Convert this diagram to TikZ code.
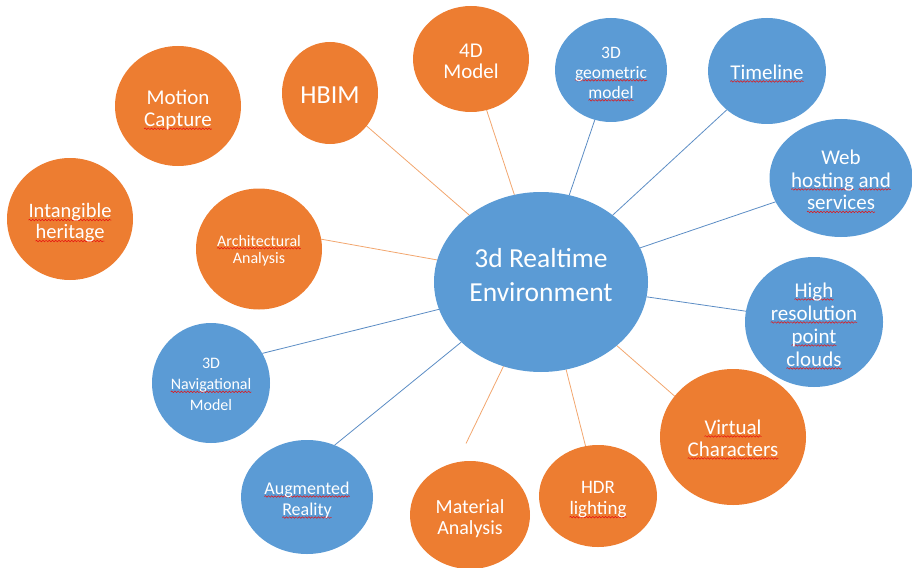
\documentclass[tikz,border=0pt]{standalone}
\usepackage{fontspec}
\setmainfont{Carlito}
\usetikzlibrary{shapes.geometric,backgrounds,decorations.pathmorphing}
\definecolor{orfill}{HTML}{ED7D31}
\definecolor{blfill}{HTML}{5B9BD5}
\definecolor{orline}{HTML}{F2A66E}
\definecolor{blline}{HTML}{5B8CC4}
\definecolor{sqred}{HTML}{E81010}
\newsavebox\sqbox
\newlength\sqlen
\newcommand\sq[1]{\sbox\sqbox{#1}\setlength\sqlen{\wd\sqbox}%
  \rlap{\tikz[overlay]\draw[sqred, line width=0.5pt, decorate,
    decoration={snake, amplitude=0.8pt, segment length=3.2pt}]
    (0pt,-2.2pt) -- (\sqlen,-2.2pt);}\usebox\sqbox}
\newcommand\fs[2]{\fontsize{#1}{#2}\selectfont}
\tikzset{
  bub/.style={ellipse, inner sep=0pt, outer sep=0pt},
  obub/.style={bub, fill=orfill},
  bbub/.style={bub, fill=blfill},
  lbl/.style={text=white, align=center, inner sep=0pt},
  oline/.style={draw=orline, line width=0.8pt},
  bline/.style={draw=blline, line width=0.8pt},
}
\begin{document}
\begin{tikzpicture}[x=1pt,y=-1pt]
\useasboundingbox (0,0) rectangle (912,567);
% central node
\node[bbub, minimum width=214pt, minimum height=180pt,
  label={[lbl, font={\fs{27.5}{34}}, yshift=6.5pt]center:{3d Realtime\\Environment}}]
  (main) at (541,282) {};
% orange nodes
\node[obub, minimum width=126pt, minimum height=120pt,
  label={[lbl, font={\fs{21}{22}}, yshift=-4pt]center:{Motion\\\sq{Capture}}}] (motion) at (178,106) {};
\node[obub, minimum width=96pt, minimum height=102pt,
  label={[lbl, font={\fs{26}{28}}, yshift=-2pt]center:{HBIM}}] (hbim) at (330,93) {};
\node[obub, minimum width=126pt, minimum height=122pt,
  label={[lbl, font={\fs{20.5}{21}}, yshift=-4pt]center:{\sq{Intangible}\\\sq{heritage}}}] (intang) at (70,219) {};
\node[obub, minimum width=126pt, minimum height=121pt,
  label={[lbl, font={\fs{16}{17.5}}, yshift=-1.5pt]center:{\sq{Architectural}\\Analysis}}] (arch) at (259,249) {};
\node[obub, minimum width=116pt, minimum height=106pt,
  label={[lbl, font={\fs{21}{21}}, yshift=-2pt]center:{4D\\Model}}] (fourd) at (471,59) {};
\node[obub, minimum width=146pt, minimum height=136pt,
  label={[lbl, font={\fs{21}{22}}, yshift=-1pt]center:{\sq{Virtual}\\\sq{Characters}}}] (virt) at (733,437) {};
\node[obub, minimum width=118pt, minimum height=102pt,
  label={[lbl, font={\fs{19}{21}}, yshift=-4pt]center:{HDR\\\sq{lighting}}}] (hdr) at (598,496) {};
\node[obub, minimum width=120pt, minimum height=108pt,
  label={[lbl, font={\fs{20}{21}}, yshift=-4pt]center:{Material\\Analysis}}] (mat) at (470,515) {};
% blue nodes
\node[bbub, minimum width=112pt, minimum height=104pt,
  label={[lbl, font={\fs{17.5}{20}}, yshift=-2.5pt]center:{3D\\\sq{geometric}\\\sq{model}}}] (geom) at (611,70) {};
\node[bbub, minimum width=118pt, minimum height=106pt,
  label={[lbl, font={\fs{21}{22}}, yshift=-1pt]center:{\sq{Timeline}}}] (time) at (767,71) {};
\node[bbub, minimum width=143pt, minimum height=118pt,
  label={[lbl, font={\fs{21}{22.5}}, yshift=-2pt]center:{Web\\\sq{hosting} \sq{and}\\\sq{services}}}] (web) at (841,178) {};
\node[bbub, minimum width=138pt, minimum height=130pt,
  label={[lbl, font={\fs{21}{23}}, yshift=-2.5pt]center:{\sq{High}\\\sq{resolution}\\\sq{point}\\\sq{clouds}}}] (high) at (814,322) {};
\node[bbub, minimum width=132pt, minimum height=114pt,
  label={[lbl, font={\fs{18}{21}}, yshift=-3pt]center:{\sq{Augmented}\\\sq{Reality}}}] (aug) at (307,497) {};
\node[bbub, minimum width=118pt, minimum height=120pt,
  label={[lbl, font={\fs{16}{21}}, yshift=-1.5pt]center:{3D\\\sq{Navigational}\\Model}}] (nav) at (211,383) {};
% connectors
\begin{pgfonlayer}{background}
\draw[oline] (main.137) -- (hbim.-42.6);
\draw[oline] (main.107.5) -- (fourd.-73.2);
\draw[bline] (main.72) -- (geom.-108);
\draw[bline] (main.43.8) -- (time.-136.4);
\draw[bline] (main.19.1) -- (web.-160.3);
\draw[bline] (main.-8) -- (high.171.8);
\draw[oline] (main.-40.5) -- (virt.145.6);
\draw[oline] (main.-74.7) -- (hdr.104.6);
\draw[oline, shorten >=21pt] (main.-114.6) -- (mat.104);
\draw[bline] (main.-143) -- (aug.62.6);
\draw[bline] (main.-165.8) -- (nav.30.8);
\draw[oline] (main.168.6) -- (arch.9);
\end{pgfonlayer}
\end{tikzpicture}
\end{document}
